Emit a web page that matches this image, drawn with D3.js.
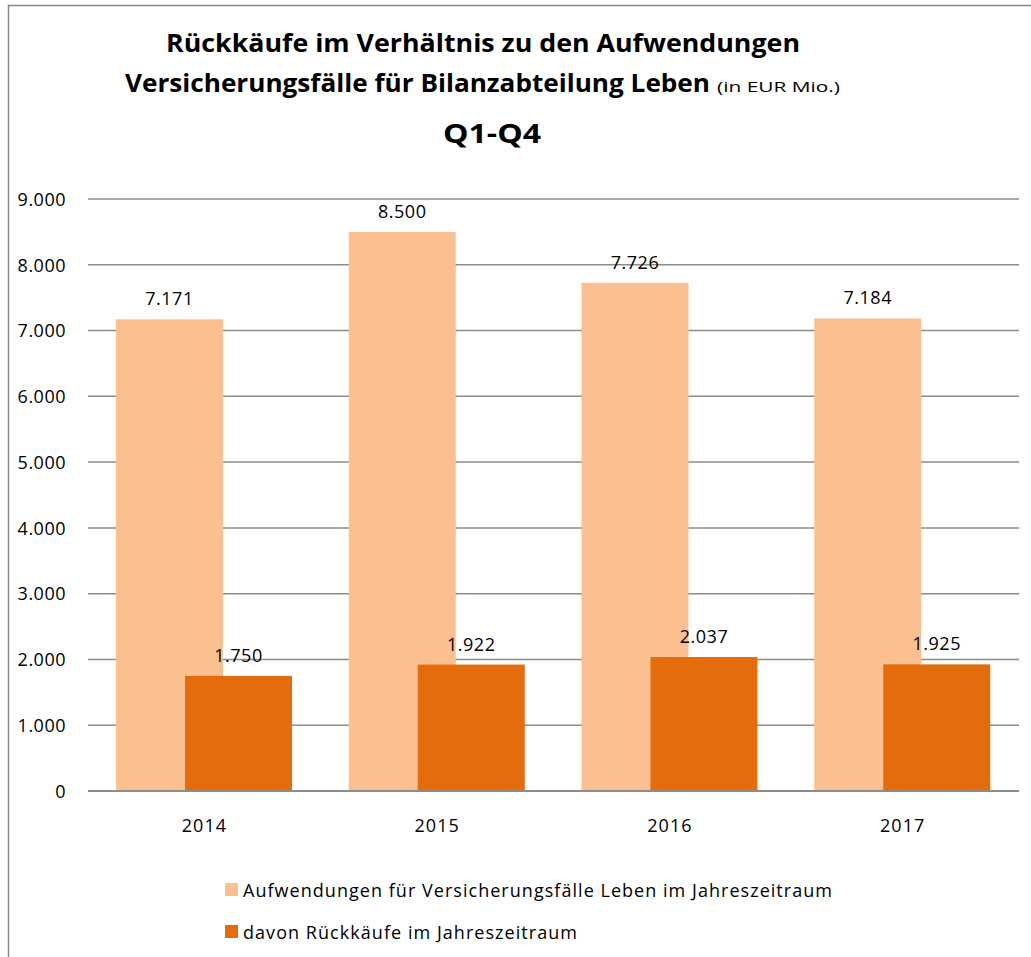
<!DOCTYPE html>
<html>
<head>
<meta charset="utf-8">
<script src="https://cdn.jsdelivr.net/npm/d3@7"></script>
<style>
  body { margin: 0; background: #fff; }
  text { font-family: "Open Sans", sans-serif; }
</style>
</head>
<body>
<div id="chart"></div>
<script>
const years = ["2014", "2015", "2016", "2017"];
const aufwendungen = [7171, 8500, 7726, 7184];
const rueckkaeufe = [1750, 1922, 2037, 1925];
const yTicks = [0, 1000, 2000, 3000, 4000, 5000, 6000, 7000, 8000, 9000];
const seriesNames = ["Aufwendungen für Versicherungsfälle Leben im Jahreszeitraum", "davon Rückkäufe im Jahreszeitraum"];
const colors = ["#fac090", "#e46c0a"];

const W = 1031, H = 957;
const plot = { left: 88, right: 1019, top: 199, bottom: 791 };

const svg = d3.select("#chart").append("svg")
    .attr("width", W).attr("height", H);

// frame (only left + top visible)
svg.append("path")
    .attr("d", "M8.5," + H + " L8.5,5.5 L" + W + ",5.5")
    .attr("fill", "none").attr("stroke", "#878787").attr("stroke-width", 1.5);

const de = d3.formatLocale({ decimal: ",", thousands: ".", grouping: [3], currency: ["", " €"] });
const fmt = de.format(",d");

const x = d3.scaleBand().domain(years).range([plot.left, plot.right]);
const y = d3.scaleLinear().domain([0, 9000]).range([plot.bottom, plot.top]);

// grid
svg.append("g").selectAll("line").data(yTicks.slice(1)).enter().append("line")
    .attr("x1", plot.left).attr("x2", plot.right)
    .attr("y1", d => y(d)).attr("y2", d => y(d))
    .attr("stroke", "#8c8c8c").attr("stroke-width", 1.5);

// y labels
const yAxis = svg.append("g").attr("transform", "translate(66,0)")
    .call(d3.axisLeft(y).tickValues(yTicks).tickFormat(fmt).tickSize(0).tickPadding(0));
yAxis.select(".domain").remove();
yAxis.selectAll("text")
    .attr("font-size", "18px").attr("fill", "#000")
    .style("font-family", "'Open Sans', sans-serif")
    .style("letter-spacing", "0.5px").attr("dy", "0.35em");

// bars
const barW = 107, shift = 69;
const bx = d => x(d) + 28;

svg.append("g").selectAll("rect").data(aufwendungen).enter().append("rect")
    .attr("x", (d, i) => bx(years[i]))
    .attr("y", d => y(d))
    .attr("width", barW)
    .attr("height", d => plot.bottom - y(d))
    .attr("fill", colors[0]);

svg.append("g").selectAll("rect").data(rueckkaeufe).enter().append("rect")
    .attr("x", (d, i) => bx(years[i]) + shift)
    .attr("y", d => y(d))
    .attr("width", barW)
    .attr("height", d => plot.bottom - y(d))
    .attr("fill", colors[1]);

// value labels
svg.append("g").selectAll("text").data(aufwendungen).enter().append("text")
    .attr("x", (d, i) => bx(years[i]) + barW / 2)
    .attr("y", d => y(d) - 14)
    .attr("text-anchor", "middle").attr("font-size", "18px")
    .style("letter-spacing", "0.5px")
    .text(d => fmt(d));

svg.append("g").selectAll("text").data(rueckkaeufe).enter().append("text")
    .attr("x", (d, i) => bx(years[i]) + shift + barW / 2)
    .attr("y", d => y(d) - 14)
    .attr("text-anchor", "middle").attr("font-size", "18px")
    .style("letter-spacing", "0.5px")
    .text(d => fmt(d));

// x axis
svg.append("line")
    .attr("x1", plot.left).attr("x2", plot.right)
    .attr("y1", plot.bottom).attr("y2", plot.bottom)
    .attr("stroke", "#8c8c8c").attr("stroke-width", 2);

const xAxis = svg.append("g").attr("transform", "translate(0," + plot.bottom + ")")
    .call(d3.axisBottom(x).tickSize(0).tickPadding(0));
xAxis.select(".domain").remove();
xAxis.selectAll("text")
    .attr("font-size", "18px").attr("fill", "#000")
    .style("font-family", "'Open Sans', sans-serif")
    .style("letter-spacing", "1px")
    .attr("y", 41).attr("dy", null);

// titles
svg.append("text").attr("x", 483).attr("y", 52)
    .attr("text-anchor", "middle").attr("font-size", "25px").attr("font-weight", "bold")
    .attr("textLength", 634).attr("lengthAdjust", "spacingAndGlyphs")
    .text("Rückkäufe im Verhältnis zu den Aufwendungen");

const t2 = svg.append("text").attr("x", 125).attr("y", 92);
t2.append("tspan").attr("font-size", "25px").attr("font-weight", "bold")
    .attr("textLength", 585).attr("lengthAdjust", "spacingAndGlyphs")
    .text("Versicherungsfälle für Bilanzabteilung Leben");
t2.append("tspan").attr("x", 717).attr("font-size", "15px")
    .attr("textLength", 123).attr("lengthAdjust", "spacingAndGlyphs")
    .text("(in EUR Mio.)");

svg.append("text").attr("x", 492).attr("y", 143)
    .attr("text-anchor", "middle").attr("font-size", "27px").attr("font-weight", "bold")
    .attr("textLength", 98).attr("lengthAdjust", "spacingAndGlyphs")
    .text("Q1-Q4");

// legend
const legendWidths = [589, 334];
const legend = svg.append("g").selectAll("g").data(seriesNames).enter().append("g")
    .attr("transform", (d, i) => "translate(225," + (883 + i * 42) + ")");
legend.append("rect").attr("width", 13).attr("height", 13)
    .attr("fill", (d, i) => colors[i]);
legend.append("text").attr("x", 18).attr("y", 14)
    .attr("font-size", "18px")
    .attr("textLength", (d, i) => legendWidths[i]).attr("lengthAdjust", "spacing")
    .text(d => d);
</script>
</body>
</html>
